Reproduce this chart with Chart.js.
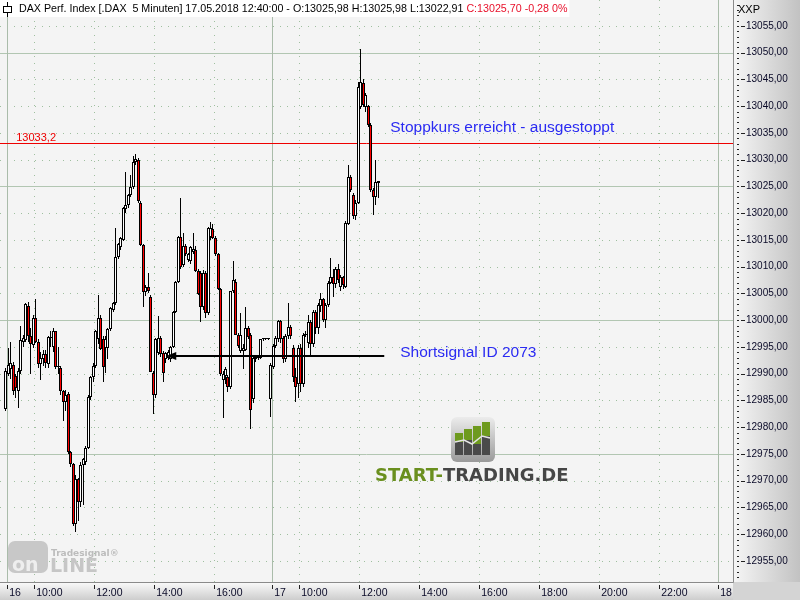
<!DOCTYPE html>
<html>
<head>
<meta charset="utf-8">
<script src="https://cdn.jsdelivr.net/npm/chart.js@4.4.1/dist/chart.umd.min.js"></script>
<style>
html, body { margin: 0; padding: 0; background: #f4f4f4; }
canvas { display: block; }
</style>
</head>
<body>
<canvas id="chart" width="800" height="600"></canvas>
<script>
// DAX 5-Minuten-Kerzen: 16.05.2018 (09:05 - 17:50) und 17.05.2018 (09:05 - 12:40)
const day16Open = [12983.5, 12990.0, 12990.8, 12991.7, 12989.5, 12986.8, 12990.6, 12996.0, 12996.3, 13002.7,
  12997.0, 12995.4, 13000.4, 12996.0, 12991.8, 12992.8, 12993.7, 12991.8, 12996.7, 12995.0,
  12997.9, 12991.2, 12991.0, 12986.7, 12984.8, 12986.2, 12975.3, 12973.1, 12962.0, 12970.3,
  12966.0, 12973.0, 12973.5, 12976.2, 12985.7, 12989.3, 12991.5, 12996.5, 13000.5, 12996.4,
  12994.8, 12994.8, 12998.3, 13002.0, 13003.3, 13011.9, 13013.7, 13015.0, 13020.8, 13021.5,
  13023.4, 13024.9, 13029.6, 13030.0, 13022.0, 13014.1, 13005.3, 13006.3, 13004.4, 12990.2,
  12986.1, 12993.9, 12996.6, 12993.9, 12992.7, 12993.0, 12992.7, 12995.0, 13001.6, 13007.2,
  13015.6, 13010.4, 13013.8, 13011.3, 13011.0, 13012.8, 13013.2, 13009.2, 13008.8, 13002.4,
  13008.9, 13001.4, 13015.6, 13017.1, 13015.4, 13012.3, 13005.8, 12988.9, 12989.6, 12989.3,
  12987.6, 13005.4, 13007.2, 12997.3, 12994.2, 12994.2, 12994.5, 12998.6, 12997.3, 12985.2,
  12992.8, 12993.0, 12993.0, 12996.4, 12996.4, 12996.4];
const day16High = [12991.0, 12994.8, 12996.0, 12992.2, 12990.0, 12991.0, 12998.9, 12997.2, 13003.2, 13003.5,
  12998.5, 13001.0, 13004.0, 12996.5, 12994.0, 12994.5, 12994.5, 12997.0, 12998.0, 12998.5,
  12998.0, 12995.0, 12991.5, 12987.0, 12987.0, 12986.5, 12975.5, 12973.3, 12971.0, 12970.5,
  12973.5, 12974.3, 12976.5, 12986.0, 12989.5, 12992.0, 12998.2, 13004.8, 13001.0, 12997.0,
  12997.0, 12998.5, 13002.5, 13003.5, 13017.3, 13014.5, 13015.5, 13021.2, 13027.8, 13023.6,
  13027.2, 13030.7, 13031.0, 13030.3, 13022.3, 13014.3, 13006.5, 13008.8, 13004.8, 12990.5,
  12996.6, 13000.7, 12997.0, 12994.2, 12994.0, 12994.5, 12995.2, 13001.8, 13007.4, 13015.7,
  13022.9, 13016.4, 13014.2, 13012.5, 13013.8, 13016.4, 13013.8, 13009.5, 13009.2, 13009.3,
  13009.2, 13017.5, 13018.3, 13018.0, 13015.8, 13012.6, 13006.0, 12990.5, 12991.2, 12989.8,
  13005.4, 13011.0, 13007.8, 12997.6, 13001.4, 12995.5, 13002.4, 12999.0, 12997.6, 12993.5,
  12993.5, 12993.4, 12996.5, 12996.6, 12996.5, 12996.5];
const day16Low = [12983.0, 12989.5, 12989.0, 12986.0, 12985.5, 12983.6, 12990.0, 12995.0, 12996.0, 12996.0,
  12990.0, 12994.8, 12995.8, 12991.0, 12988.9, 12991.5, 12991.0, 12991.0, 12995.0, 12994.0,
  12990.8, 12990.0, 12986.0, 12981.1, 12983.0, 12975.0, 12972.5, 12961.5, 12960.4, 12962.5,
  12965.0, 12965.5, 12973.0, 12976.0, 12985.0, 12988.5, 12991.0, 12995.5, 12994.5, 12988.4,
  12990.2, 12992.7, 12998.0, 13001.5, 13002.8, 13011.5, 13013.2, 13014.8, 13020.0, 13021.0,
  13023.0, 13024.5, 13029.0, 13022.0, 13013.8, 13002.5, 13004.5, 13005.0, 12990.3, 12982.4,
  12985.5, 12993.5, 12993.2, 12988.4, 12992.0, 12992.5, 12992.2, 12994.8, 13001.3, 13007.0,
  13009.5, 13010.0, 13012.0, 13010.8, 13010.5, 13012.4, 13009.0, 13004.7, 12999.7, 13002.0,
  13000.5, 13001.0, 13015.0, 13015.2, 13012.0, 13005.6, 12989.6, 12981.8, 12988.0, 12986.5,
  12987.2, 13005.0, 12997.2, 12994.8, 12993.8, 12990.8, 12994.2, 12996.5, 12979.6, 12984.5,
  12992.2, 12992.5, 12992.8, 12996.2, 12996.3, 12996.3];
const day16Close = [12990.6, 12991.7, 12992.0, 12986.7, 12987.3, 12990.6, 12996.3, 12996.6, 13003.0, 12997.0,
  12995.6, 13000.4, 12996.0, 12991.8, 12993.0, 12993.7, 12992.0, 12996.8, 12996.9, 12997.9,
  12991.2, 12991.5, 12986.7, 12984.8, 12986.0, 12975.3, 12973.1, 12961.9, 12970.3, 12966.0,
  12973.0, 12974.0, 12976.2, 12985.7, 12989.3, 12991.5, 12997.9, 13000.5, 12994.7, 12991.2,
  12996.4, 12998.3, 13002.2, 13003.3, 13011.9, 13014.3, 13015.4, 13021.0, 13021.5, 13023.4,
  13024.9, 13029.6, 13030.1, 13022.2, 13014.0, 13005.3, 13006.3, 13005.5, 12990.4, 12986.1,
  12996.4, 12996.6, 12993.6, 12990.2, 12993.9, 12994.0, 12995.0, 13001.6, 13007.2, 13015.6,
  13010.0, 13013.8, 13012.3, 13012.3, 13013.6, 13013.4, 13009.2, 13004.9, 13002.4, 13008.9,
  13001.4, 13017.3, 13017.3, 13015.4, 13012.3, 13005.8, 12989.9, 12989.9, 12990.8, 12987.6,
  13005.4, 13007.6, 12997.3, 12995.1, 12997.3, 12994.9, 12998.6, 12996.9, 12983.3, 12993.0,
  12993.1, 12993.2, 12996.4, 12996.4, 12996.4, 12996.4];

const day17Open = [12985.2, 12991.3, 12995.1, 12996.4, 12999.8, 12996.6, 12992.7, 12997.0, 12998.8, 12994.9,
  12989.3, 12988.0, 12994.9, 12988.0, 12997.3, 12995.8, 12999.6, 12995.5, 13001.6, 12998.6,
  13002.6, 13003.9, 13000.1, 13002.9, 13007.0, 13008.0, 13006.8, 13009.5, 13006.3, 13008.0,
  13006.3, 13018.0, 13026.8, 13023.4, 13019.4, 13022.0, 13039.9, 13044.4, 13039.9, 13040.0,
  13036.5, 13024.4, 13023.1, 13025.98];
const day17High = [12992.0, 12995.5, 12997.0, 13000.1, 13000.0, 12997.0, 12997.5, 13003.3, 12999.2, 12995.3,
  12991.0, 12995.3, 12995.5, 12997.6, 12998.0, 13001.0, 13000.0, 13002.0, 13002.0, 13003.2,
  13005.0, 13004.2, 13003.2, 13007.3, 13011.7, 13009.5, 13010.0, 13010.6, 13008.5, 13008.3,
  13018.5, 13029.1, 13027.2, 13023.8, 13022.4, 13044.5, 13050.7, 13045.0, 13042.4, 13040.3,
  13036.8, 13024.8, 13030.0, 13025.98];
const day17Low = [12982.0, 12990.8, 12994.8, 12996.0, 12995.8, 12992.0, 12992.2, 12996.5, 12996.5, 12988.5,
  12984.8, 12985.5, 12986.5, 12987.5, 12996.8, 12994.8, 12993.5, 12995.0, 12997.5, 12997.5,
  13001.5, 12999.7, 12998.5, 13002.5, 13006.8, 13004.4, 13006.0, 13007.0, 13005.5, 13005.8,
  13006.0, 13017.8, 13024.0, 13019.0, 13018.8, 13021.8, 13039.5, 13039.8, 13039.0, 13036.2,
  13024.0, 13019.7, 13021.6, 13022.91];
const day17Close = [12991.7, 12995.1, 12996.6, 12999.8, 12996.4, 12992.7, 12997.0, 12998.8, 12997.0, 12989.3,
  12987.5, 12994.9, 12988.0, 12997.3, 12997.4, 12999.6, 12995.5, 13001.6, 12998.6, 13002.9,
  13003.9, 13000.1, 13002.9, 13007.0, 13008.0, 13006.8, 13009.5, 13007.6, 13008.0, 13006.5,
  13018.2, 13026.8, 13024.4, 13019.4, 13022.0, 13043.6, 13044.5, 13040.3, 13042.1, 13036.5,
  13024.4, 13023.1, 13025.9, 13025.70];

// Preisachse und Zeitachse
const priceTicks = [12955, 12960, 12965, 12970, 12975, 12980, 12985, 12990, 12995, 13000,
  13005, 13010, 13015, 13020, 13025, 13030, 13035, 13040, 13045, 13050, 13055];
const timeTickMinutes = [6, 60, 180, 300, 420, 536, 590, 710, 830, 950, 1070, 1190, 1310, 1428];
const timeTickLabels = ['16', '10:00', '12:00', '14:00', '16:00', '17', '10:00', '12:00',
  '14:00', '16:00', '18:00', '20:00', '22:00', '18'];

// Markierungen
const stopLevel = 13033.2;
const signalLevel = 12993.4;
const signalFrom = 328;
const signalTo = 760;

// Achsen-Minuten: 09:00 am 16. = 0, eine Sitzung im Chart = 09:00 - 17:50
const SESSION = 530;
const barX = (day, k) => day * SESSION + 5 * (k + 1) - 2.5;

const candles = [];
[[day16Open, day16High, day16Low, day16Close], [day17Open, day17High, day17Low, day17Close]]
  .forEach(([o, h, l, c], d) => {
    o.forEach((v, k) => candles.push({ x: barX(d, k), o: v, h: h[k], l: l[k], c: c[k] }));
  });

const FONT = '"Liberation Sans", Arial, sans-serif';
const fmt = v => v.toFixed(2).replace('.', ',');

// Kerzen auf ganze Pixel legen, damit die Umrisse scharf bleiben
const snap = {
  id: 'snap',
  beforeDatasetsDraw(chart) {
    chart.getSortedVisibleDatasetMetas().forEach(meta => {
      meta.data.forEach(el => {
        el.x = Math.floor(el.x) + 0.5;
        const t = Math.round(Math.min(el.y, el.base));
        let b = Math.round(Math.max(el.y, el.base));
        if (b - t < 1) b = t + 1;
        el.y = t;
        el.base = b;
      });
    });
  }
};

const backdrop = {
  id: 'backdrop',
  beforeDraw(chart) {
    const { ctx, chartArea: a, scales: { x, y } } = chart;
    const W = chart.width, H = chart.height;
    ctx.save();
    ctx.fillStyle = '#f4f4f4';
    ctx.fillRect(a.left, a.top, a.right - a.left, a.bottom - a.top);

    // Achsenhintergruende
    let g = ctx.createLinearGradient(a.right, 0, W, 0);
    g.addColorStop(0, '#f6f6f6');
    g.addColorStop(1, '#c2c2c2');
    ctx.fillStyle = g;
    ctx.fillRect(a.right, 0, W - a.right, a.bottom);
    g = ctx.createLinearGradient(0, a.bottom, 0, H);
    g.addColorStop(0, '#fbfbfb');
    g.addColorStop(1, '#cdcdcd');
    ctx.fillStyle = g;
    ctx.fillRect(0, a.bottom, a.right, H - a.bottom);
    ctx.fillStyle = '#d4d4d4';
    ctx.fillRect(a.right, a.bottom, W - a.right, H - a.bottom);

    // horizontale Gitterlinien
    ctx.lineWidth = 1;
    priceTicks.forEach(p => {
      const py = Math.round(y.getPixelForValue(p)) + 0.5;
      ctx.beginPath();
      if (p % 25 === 0) { ctx.setLineDash([]); ctx.strokeStyle = '#b2c6b2'; }
      else { ctx.setLineDash([1, 6]); ctx.strokeStyle = '#9fbf9f'; }
      ctx.moveTo(a.left, py); ctx.lineTo(a.right, py); ctx.stroke();
    });
    // vertikale Gitterlinien
    timeTickMinutes.forEach((m, i) => {
      const px = Math.round(x.getPixelForValue(m)) + 0.5;
      ctx.beginPath();
      if (timeTickLabels[i].indexOf(':') < 0) { ctx.setLineDash([]); ctx.strokeStyle = '#aabcaa'; }
      else { ctx.setLineDash([1, 6]); ctx.strokeStyle = '#9fbf9f'; }
      ctx.moveTo(px, a.top); ctx.lineTo(px, a.bottom); ctx.stroke();
    });
    ctx.setLineDash([]);

    // Achsenlinien
    ctx.strokeStyle = '#8a8a8a';
    ctx.beginPath();
    ctx.moveTo(a.right + 0.5, 0); ctx.lineTo(a.right + 0.5, a.bottom + 0.5);
    ctx.lineTo(0, a.bottom + 0.5);
    ctx.stroke();

    // Striche an der Preisachse
    ctx.strokeStyle = '#222';
    for (let p = Math.ceil(y.min); p <= y.max; p++) {
      const py = Math.round(y.getPixelForValue(p)) + 0.5;
      ctx.beginPath(); ctx.moveTo(a.right + 4, py); ctx.lineTo(a.right + 6, py); ctx.stroke();
    }
    priceTicks.forEach(p => {
      const py = Math.round(y.getPixelForValue(p)) + 0.5;
      ctx.beginPath(); ctx.moveTo(a.right + 8, py); ctx.lineTo(a.right + 12, py); ctx.stroke();
    });
    // Striche an der Zeitachse
    timeTickMinutes.forEach(m => {
      const px = Math.round(x.getPixelForValue(m)) + 0.5;
      ctx.beginPath(); ctx.moveTo(px, a.bottom + 3); ctx.lineTo(px, a.bottom + 7); ctx.stroke();
    });

    ctx.fillStyle = '#000';
    ctx.font = '11px ' + FONT;
    ctx.textBaseline = 'middle';
    ctx.fillText('XXP', a.right + 5, 10);
    ctx.restore();
  },
  beforeDatasetsDraw(chart) {
    const { ctx, chartArea: a, scales: { x, y } } = chart;
    ctx.save();
    // Stoppkurs-Linie
    const sy = Math.round(y.getPixelForValue(stopLevel)) + 0.5;
    ctx.strokeStyle = '#ee0000';
    ctx.lineWidth = 1;
    ctx.beginPath(); ctx.moveTo(a.left, sy); ctx.lineTo(a.right, sy); ctx.stroke();
    ctx.fillStyle = '#ee0000';
    ctx.font = '11px ' + FONT;
    ctx.textBaseline = 'alphabetic';
    ctx.fillText(stopLevel.toFixed(1).replace('.', ','), x.getPixelForValue(24), sy - 2.5);

    // Tradesignal-Logo
    ctx.fillStyle = '#c8c8c8';
    ctx.beginPath(); ctx.roundRect(8, 541, 40, 32, 7); ctx.fill();
    ctx.fillStyle = '#eeeeee';
    ctx.font = 'bold 19px "DejaVu Sans", sans-serif';
    ctx.fillText('on', 12, 571);
    ctx.fillStyle = '#c6c6c6';
    ctx.fillText('LINE', 50, 572);
    ctx.font = 'bold 9px "DejaVu Sans", sans-serif';
    ctx.fillStyle = '#bcbcbc';
    ctx.fillText('Tradesignal\u00ae', 51, 556);

    // START-TRADING.DE Logo
    const g = ctx.createLinearGradient(0, 417, 0, 462);
    g.addColorStop(0, '#ececec'); g.addColorStop(1, '#9a9a9a');
    ctx.fillStyle = g;
    ctx.beginPath(); ctx.roundRect(451, 417, 44, 45, 6); ctx.fill();
    const bars = [[455, 433], [464, 429], [473, 426], [482, 422]];
    const zig = [442, 440, 444, 436];
    bars.forEach(([bx, top], i) => {
      ctx.fillStyle = '#6e9a1e';
      ctx.fillRect(bx, top, 8, zig[i] - top);
      ctx.fillStyle = '#4a4a4a';
      ctx.fillRect(bx, zig[i], 8, 455 - zig[i]);
    });
    ctx.strokeStyle = '#e4e4e4';
    ctx.lineWidth = 1.5;
    ctx.beginPath();
    ctx.moveTo(455, 442); ctx.lineTo(464, 440); ctx.lineTo(472, 444); ctx.lineTo(482, 436); ctx.lineTo(490, 438);
    ctx.stroke();
    ctx.font = 'bold 18px "DejaVu Sans", sans-serif';
    ctx.fillStyle = '#6a8f1e';
    ctx.fillText('START-', 375, 481);
    const w = ctx.measureText('START-').width;
    ctx.fillStyle = '#464646';
    ctx.fillText('TRADING.DE', 375 + w, 481);
    ctx.restore();
  },
  afterDatasetsDraw(chart) {
    const { ctx, scales: { x, y } } = chart;
    ctx.save();
    // Shortsignal-Linie mit Pfeil
    const py = Math.round(y.getPixelForValue(signalLevel));
    const x0 = x.getPixelForValue(signalFrom), x1 = x.getPixelForValue(signalTo);
    ctx.strokeStyle = '#000';
    ctx.lineWidth = 2;
    ctx.beginPath(); ctx.moveTo(x0 + 4, py); ctx.lineTo(x1, py); ctx.stroke();
    ctx.fillStyle = '#000';
    ctx.beginPath();
    ctx.moveTo(x0 - 2, py); ctx.lineTo(x0 + 8, py - 4); ctx.lineTo(x0 + 8, py + 4); ctx.closePath();
    ctx.fill();

    // Texte
    ctx.fillStyle = '#2a2af2';
    ctx.font = '15.5px ' + FONT;
    ctx.textBaseline = 'middle';
    ctx.fillText('Stoppkurs erreicht - ausgestoppt', x.getPixelForValue(772), y.getPixelForValue(13036.0));
    ctx.fillText('Shortsignal ID 2073', x.getPixelForValue(792), y.getPixelForValue(12993.9));
    ctx.restore();
  },
  afterDraw(chart) {
    const { ctx } = chart;
    ctx.save();
    ctx.font = '10.7px ' + FONT;
    ctx.textBaseline = 'middle';
    const head = 'DAX Perf. Index [.DAX  5 Minuten] 17.05.2018 12:40:00 - O:13025,98 H:13025,98 L:13022,91 ';
    const tail = 'C:13025,70 -0,28 0%';
    const w1 = ctx.measureText(head).width, w2 = ctx.measureText(tail).width;
    ctx.fillStyle = '#ffffff';
    ctx.fillRect(0, 0, 19 + w1 + w2 + 2, 17);
    // kleines Kerzensymbol
    ctx.strokeStyle = '#000'; ctx.lineWidth = 1;
    ctx.beginPath(); ctx.moveTo(7.5, 2); ctx.lineTo(7.5, 17); ctx.stroke();
    ctx.fillStyle = '#fff';
    ctx.fillRect(3.5, 6.5, 8, 6);
    ctx.strokeRect(3.5, 6.5, 8, 6);
    ctx.fillStyle = '#000';
    ctx.fillText(head, 19, 9.5);
    ctx.fillStyle = '#e8102a';
    ctx.fillText(tail, 19 + w1, 9.5);
    ctx.restore();
  }
};

new Chart(document.getElementById('chart'), {
  type: 'bar',
  data: {
    datasets: [{
      label: 'Koerper',
      data: candles.map(k => ({ x: k.x, y: [k.o, k.c] })),
      backgroundColor: candles.map(k => (k.c < k.o ? '#ff0000' : '#ffffff')),
      borderColor: '#000000',
      borderWidth: 1,
      borderSkipped: false,
      barThickness: 3,
      minBarLength: 1,
      grouped: false,
      inflateAmount: 0,
      order: 0
    }, {
      label: 'Dochte',
      data: candles.map(k => ({ x: k.x, y: [k.l, k.h] })),
      backgroundColor: '#000000',
      borderWidth: 0,
      barThickness: 1,
      grouped: false,
      inflateAmount: 0,
      order: 1
    }]
  },
  options: {
    responsive: false,
    animation: false,
    events: [],
    layout: { padding: 0, autoPadding: false },
    plugins: { legend: { display: false }, tooltip: { enabled: false } },
    scales: {
      x: {
        type: 'linear',
        min: -8.5,
        max: 1457.5,
        offset: false,
        grid: { display: false, drawTicks: false },
        border: { display: false },
        afterBuildTicks: s => { s.ticks = timeTickMinutes.map(v => ({ value: v })); },
        afterFit: s => { s.height = 18; s.paddingLeft = 0; s.paddingRight = 0; },
        ticks: {
          autoSkip: false,
          maxRotation: 0,
          minRotation: 0,
          align: 'start',
          labelOffset: 2,
          padding: 5,
          color: '#0a0a28',
          font: { family: FONT, size: 10.5 },
          callback: (v, i) => timeTickLabels[i]
        }
      },
      y: {
        position: 'right',
        min: 12951.07,
        max: 13059.86,
        grid: { display: false, drawTicks: false },
        border: { display: false },
        afterBuildTicks: s => { s.ticks = priceTicks.map(v => ({ value: v })); },
        afterFit: s => { s.width = 67; s.paddingTop = 0; s.paddingBottom = 0; },
        ticks: {
          padding: 13,
          color: '#0a0a28',
          font: { family: FONT, size: 10 },
          callback: v => fmt(v)
        }
      }
    }
  },
  plugins: [snap, backdrop]
});
</script>
</body>
</html>
